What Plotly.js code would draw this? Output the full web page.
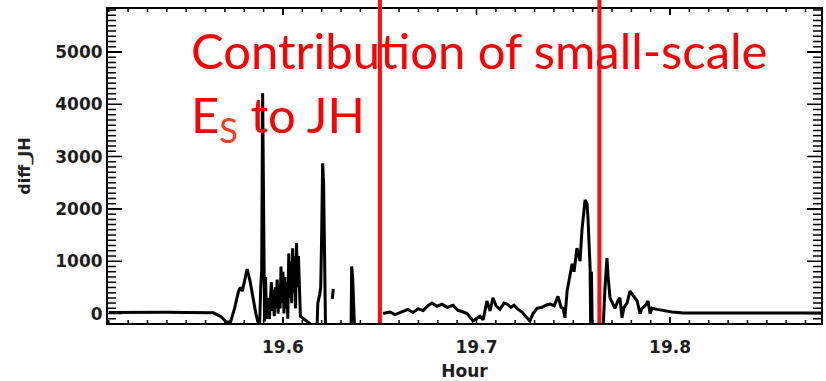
<!DOCTYPE html>
<html>
<head>
<meta charset="utf-8">
<script src="https://cdn.plot.ly/plotly-3.0.1.min.js"></script>
<style>html,body{margin:0;padding:0;background:#fff;}#chart{width:826px;height:381px;}</style>
</head>
<body>
<div id="chart"></div>
<script>
// Hour values and diff_JH values (null = gap in data)
var hour = [
  19.510,19.520,19.530,19.540,19.550,19.560,19.564,19.568,19.571,19.573,
  19.575,19.577,19.578,19.579,19.580,19.5815,19.583,19.5845,19.586,19.587,
  19.588,19.5885,19.589,19.5895,19.590,19.5905,19.591,19.5915,19.5925,19.593,
  19.594,19.5945,19.595,19.5955,19.596,19.5965,19.597,19.5975,19.598,19.5985,
  19.599,19.5995,19.600,19.6005,19.601,19.6015,19.602,19.6025,19.603,19.6035,
  19.604,19.6045,19.605,19.6055,19.606,19.6065,19.607,19.6075,19.608,19.6085,
  19.609,19.6176,19.618,19.619,19.6195,19.620,19.6205,19.621,19.6215,19.622,
  19.624,
  19.6255,19.626,
  19.630,
  19.6352,19.6355,19.636,19.6365,19.637,
  19.645,
  19.6517,19.6553,19.6579,19.6620,19.6646,19.6672,19.6698,19.6724,19.6749,19.6770,
  19.6796,19.6822,19.6848,19.6879,19.6904,19.6925,19.6951,19.6982,19.6997,19.7018,
  19.7034,19.7054,19.7070,19.7085,19.7101,19.7121,19.7142,19.7158,19.7178,19.7194,
  19.7209,19.7235,19.7256,19.7276,19.7292,19.7313,19.7338,19.7359,19.7380,19.7401,
  19.7421,19.7437,19.7447,19.7457,19.7468,19.7483,19.7494,19.7504,19.7519,19.7535,
  19.7545,19.7561,19.7571,19.7576,19.7587,19.7590,19.7594,19.7598,19.7602,19.7654,
  19.7664,19.7674,19.7680,19.7690,19.7705,19.7716,19.7731,19.7741,19.7752,19.7762,
  19.7778,19.7793,19.7809,19.7830,19.7845,19.7855,19.7871,19.7886,19.7897,19.7907,
  19.7933,19.7959,19.7985,19.8010,19.8041,19.8067,19.8155,19.8413,19.8780
];
var diffJH = [
  20,25,30,25,20,20,15,-60,-170,-150,
  100,420,500,430,600,850,620,300,0,-150,
  -150,500,800,4210,800,-150,700,-100,300,-100,
  600,50,450,-50,500,100,650,0,550,100,
  900,200,800,0,700,100,600,-100,1150,300,
  1000,200,1250,400,1100,100,1350,500,1100,300,
  -50,-300,200,370,500,1500,2870,2500,800,-300,
  null,
  280,470,
  null,
  -300,900,700,350,-300,
  null,
  0,30,-20,40,80,20,90,60,150,200,
  140,180,120,160,60,40,0,-140,-100,-50,
  -120,240,50,300,150,80,200,180,120,160,
  100,30,-60,-140,0,100,120,160,180,150,
  330,120,100,-80,430,700,950,800,1250,1000,
  1600,2170,2100,1830,870,-300,800,-300,-300,-300,
  500,1060,700,300,180,100,250,300,-80,120,
  200,430,350,240,0,100,150,240,0,100,
  80,60,50,30,20,10,10,10,10
];
var markerHours = [19.6501, 19.7635];
var xRange = [19.5096, 19.878];
var yRange = [-180, 5820];
var xMajorStep = 0.1, xMinorStep = 0.01;
var yMajorStep = 1000, yMinorStep = 100;

var axisFont = {family:'DejaVu Sans, sans-serif', size:17, color:'#1e1e1e', weight:'bold'};

// tick positions along each axis (axis decoration, from the axis steps)
function stepValues(lo, hi, step, dec){
  var out = [];
  var start = Math.ceil(lo / step - 1e-9);
  for(var i = start; i * step <= hi + 1e-9; i++){ out.push(+(i * step).toFixed(dec)); }
  return out;
}
function isMajor(v, step){ return Math.abs(v / step - Math.round(v / step)) < 1e-6; }
var xTickVals = stepValues(xRange[0], xRange[1], xMinorStep, 2);
var yTickVals = stepValues(yRange[0], yRange[1], yMinorStep, 0);

function yTickPath(sign){
  return yTickVals.map(function(v){
    var len = isMajor(v, yMajorStep) ? 14 : 8;
    return 'M0,' + v + 'L' + (sign * len) + ',' + v;
  }).join('');
}
function xTickPath(sign){
  return xTickVals.map(function(v){
    var len = isMajor(v, xMajorStep) ? 6 : 3;
    return 'M' + v + ',0L' + v + ',' + (sign * len);
  }).join('');
}

var tickLine = {color:'#000', width:1.5};
var shapes = [
  {type:'path', xref:'paper', yref:'y', xsizemode:'pixel', xanchor:0, path:yTickPath(1), line:tickLine},
  {type:'path', xref:'paper', yref:'y', xsizemode:'pixel', xanchor:1, path:yTickPath(-1), line:tickLine},
  {type:'path', xref:'x', yref:'paper', ysizemode:'pixel', yanchor:0, path:xTickPath(1), line:tickLine},
  {type:'path', xref:'x', yref:'paper', ysizemode:'pixel', yanchor:1, path:xTickPath(-1), line:tickLine}
].concat(markerHours.map(function(h){
  return {type:'line', xref:'x', yref:'paper', x0:h, x1:h, y0:0, y1:1.03,
          line:{color:'#ff0d0d', width:4}};
}));

var data = [{
  x: hour, y: diffJH, type:'scatter', mode:'lines',
  connectgaps:false,
  line:{color:'#000', width:3},
  hoverinfo:'skip'
}];

var layout = {
  width:826, height:381,
  margin:{l:108, r:5, t:9, b:58},
  paper_bgcolor:'#fff', plot_bgcolor:'#fff',
  showlegend:false,
  xaxis:{
    range:xRange, tickmode:'linear', tick0:19.6, dtick:xMajorStep, tickformat:'.1f',
    ticks:'inside', ticklen:6, tickwidth:1.5, tickcolor:'#000', ticklabelstandoff:8,
    showline:true, linecolor:'#000', linewidth:2, mirror:'allticks',
    showgrid:false, zeroline:false, tickfont:axisFont,
    title:{text:'Hour', font:axisFont, standoff:9}
  },
  yaxis:{
    range:yRange, tickmode:'linear', tick0:0, dtick:yMajorStep,
    ticks:'inside', ticklen:14, tickwidth:1.5, tickcolor:'#000',
    showline:true, linecolor:'#000', linewidth:2, mirror:'allticks',
    showgrid:false, zeroline:false, tickfont:axisFont,
    title:{text:'diff_JH', font:{family:'DejaVu Sans, sans-serif', size:16, color:'#1e1e1e', weight:'bold'}, standoff:21}
  },
  shapes: shapes,
  annotations:[{
    xref:'paper', yref:'paper', x:0.1134, y:0.968, xanchor:'left', yanchor:'top',
    align:'left', showarrow:false,
    text:'Contribution of small-scale<br>E<sub><span style="color:#ff3a1a">S</span></sub> to JH',
    font:{family:'Lato, sans-serif', size:49, color:'#ff0000'}
  }]
};

Plotly.newPlot('chart', data, layout, {staticPlot:true, displayModeBar:false});
</script>
</body>
</html>
